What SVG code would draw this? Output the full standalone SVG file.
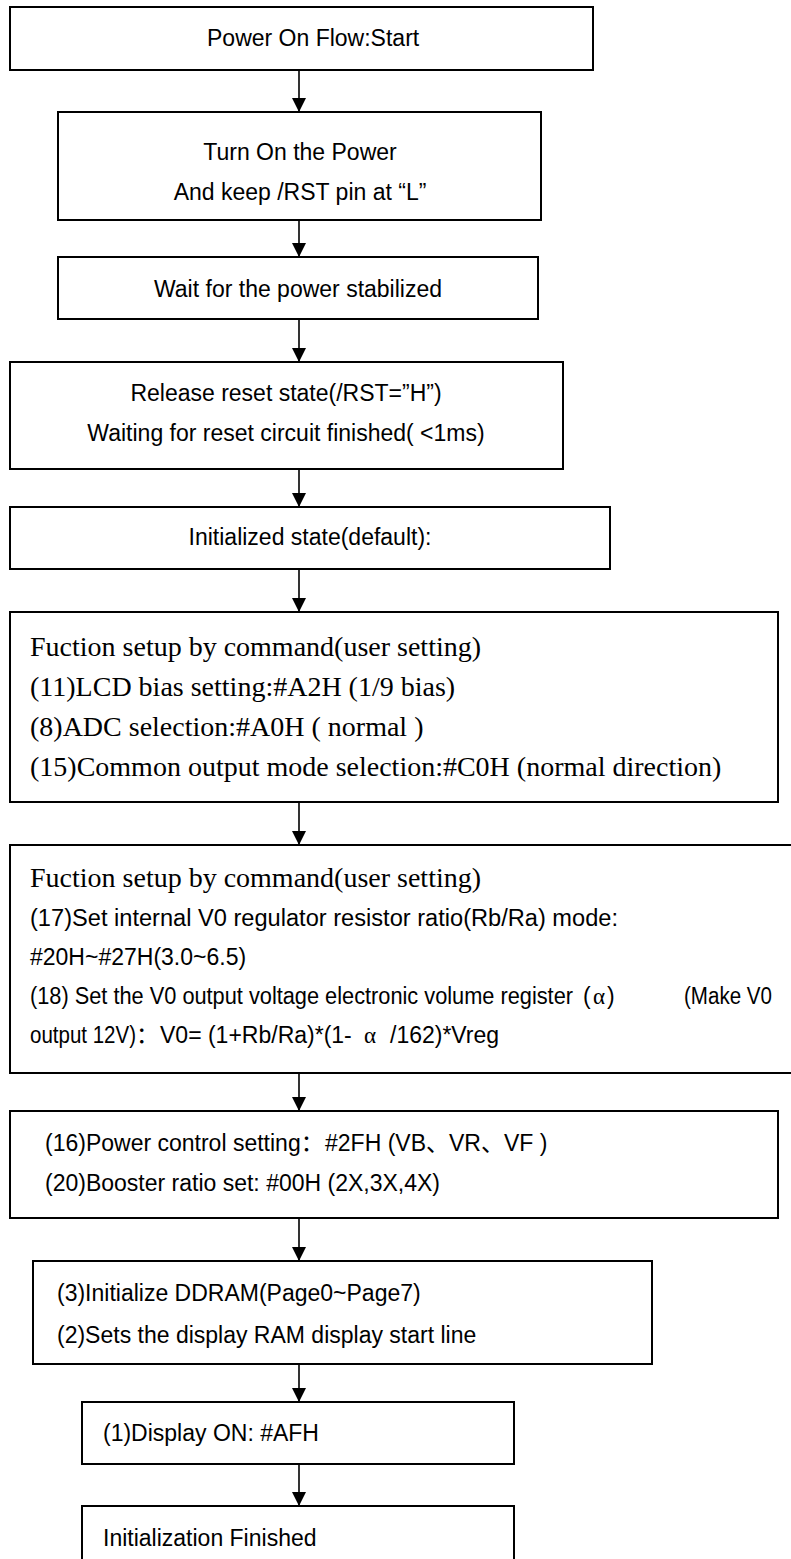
<svg xmlns="http://www.w3.org/2000/svg" width="791" height="1559" viewBox="0 0 791 1559">
<style>
.box{fill:#fff;stroke:#000;stroke-width:2}
.s{font-family:"Liberation Sans","Noto Sans CJK SC",Arial,sans-serif;font-size:23px;fill:#000}
.t{font-family:"Liberation Serif","Times New Roman",serif;font-size:28px;fill:#000}
.g{font-family:"Liberation Serif","Times New Roman",serif}
.k{font-family:"Noto Sans CJK SC",sans-serif}
.c{text-anchor:middle}
.edge{stroke:#000;stroke-width:1.6;fill:none;marker-end:url(#ah)}
</style>
<defs>
<marker id="ah" viewBox="0 0 14 15" refX="14" refY="7" markerWidth="14" markerHeight="15" markerUnits="userSpaceOnUse" orient="auto">
<path d="M0,0 L14,7 L0,14 z" fill="#000"/>
</marker>
</defs>
<rect width="791" height="1559" fill="#fff"/>
<g id="connectors">
<line class="edge" x1="299" y1="70" x2="299" y2="112"/>
<line class="edge" x1="299" y1="220" x2="299" y2="257"/>
<line class="edge" x1="299" y1="319" x2="299" y2="362"/>
<line class="edge" x1="299" y1="469" x2="299" y2="507"/>
<line class="edge" x1="299" y1="569" x2="299" y2="612"/>
<line class="edge" x1="299" y1="802" x2="299" y2="845"/>
<line class="edge" x1="299" y1="1073" x2="299" y2="1111"/>
<line class="edge" x1="299" y1="1218" x2="299" y2="1261"/>
<line class="edge" x1="299" y1="1364" x2="299" y2="1402"/>
<line class="edge" x1="299" y1="1464" x2="299" y2="1506"/>
</g>
<g id="n1">
<rect class="box" x="10" y="7" width="583" height="63"/>
<text class="s" x="207" y="46" font-size="22.5">Power On Flow:Start</text>
</g>
<g id="n2">
<rect class="box" x="58" y="112" width="483" height="108"/>
<text class="s c" x="300" y="160">Turn On the Power</text>
<text class="s c" x="300" y="200">And keep /RST pin at “L”</text>
</g>
<g id="n3">
<rect class="box" x="58" y="257" width="480" height="62"/>
<text class="s c" x="298" y="297">Wait for the power stabilized</text>
</g>
<g id="n4">
<rect class="box" x="10" y="362" width="553" height="107"/>
<text class="s c" x="286" y="401">Release reset state(/RST=”H”)</text>
<text class="s c" x="286" y="441">Waiting for reset circuit finished( &lt;1ms)</text>
</g>
<g id="n5">
<rect class="box" x="10" y="507" width="600" height="62"/>
<text class="s c" x="310" y="545">Initialized state(default):</text>
</g>
<g id="n6">
<rect class="box" x="10" y="612" width="768" height="190"/>
<text class="t" x="30" y="656">Fuction setup by command(user setting)</text>
<text class="t" x="30" y="696">(11)LCD bias setting:#A2H (1/9 bias)</text>
<text class="t" x="30" y="736">(8)ADC selection:#A0H ( normal )</text>
<text class="t" x="30" y="776">(15)Common output mode selection:#C0H (normal direction)</text>
</g>
<g id="n7">
<rect class="box" x="10" y="845" width="790" height="228"/>
<text class="t" x="30" y="887">Fuction setup by command(user setting)</text>
<text class="s" x="30" y="926" textLength="588" lengthAdjust="spacingAndGlyphs">(17)Set internal V0 regulator resistor ratio(Rb/Ra) mode:</text>
<text class="s" x="30" y="965">#20H~#27H(3.0~6.5)</text>
<text class="s" y="1004"><tspan x="30" textLength="543" lengthAdjust="spacingAndGlyphs">(18) Set the V0 output voltage electronic volume register</tspan><tspan x="583">(</tspan><tspan x="593" class="g">α</tspan><tspan x="607">)</tspan><tspan x="684" textLength="88" lengthAdjust="spacingAndGlyphs">(Make V0</tspan></text>
<text class="s" y="1043"><tspan x="30" textLength="106" lengthAdjust="spacingAndGlyphs">output 12V)</tspan><tspan x="136" class="k">：</tspan><tspan x="160">V0= (1+Rb/Ra)*(1-</tspan><tspan x="364" class="g">α</tspan><tspan x="390">/162)*Vreg</tspan></text>
</g>
<g id="n8">
<rect class="box" x="10" y="1111" width="768" height="107"/>
<text class="s" y="1151"><tspan x="45">(16)Power control setting：</tspan><tspan x="325">#2FH (VB、VR、VF )</tspan></text>
<text class="s" x="45" y="1191">(20)Booster ratio set: #00H (2X,3X,4X)</text>
</g>
<g id="n9">
<rect class="box" x="33" y="1261" width="619" height="103"/>
<text class="s" x="57" y="1301">(3)Initialize DDRAM(Page0~Page7)</text>
<text class="s" x="57" y="1343">(2)Sets the display RAM display start line</text>
</g>
<g id="n10">
<rect class="box" x="82" y="1402" width="432" height="62"/>
<text class="s" x="103" y="1441">(1)Display ON: #AFH</text>
</g>
<g id="n11">
<rect class="box" x="82" y="1506" width="432" height="70"/>
<text class="s" x="103" y="1546">Initialization Finished</text>
</g>
</svg>
